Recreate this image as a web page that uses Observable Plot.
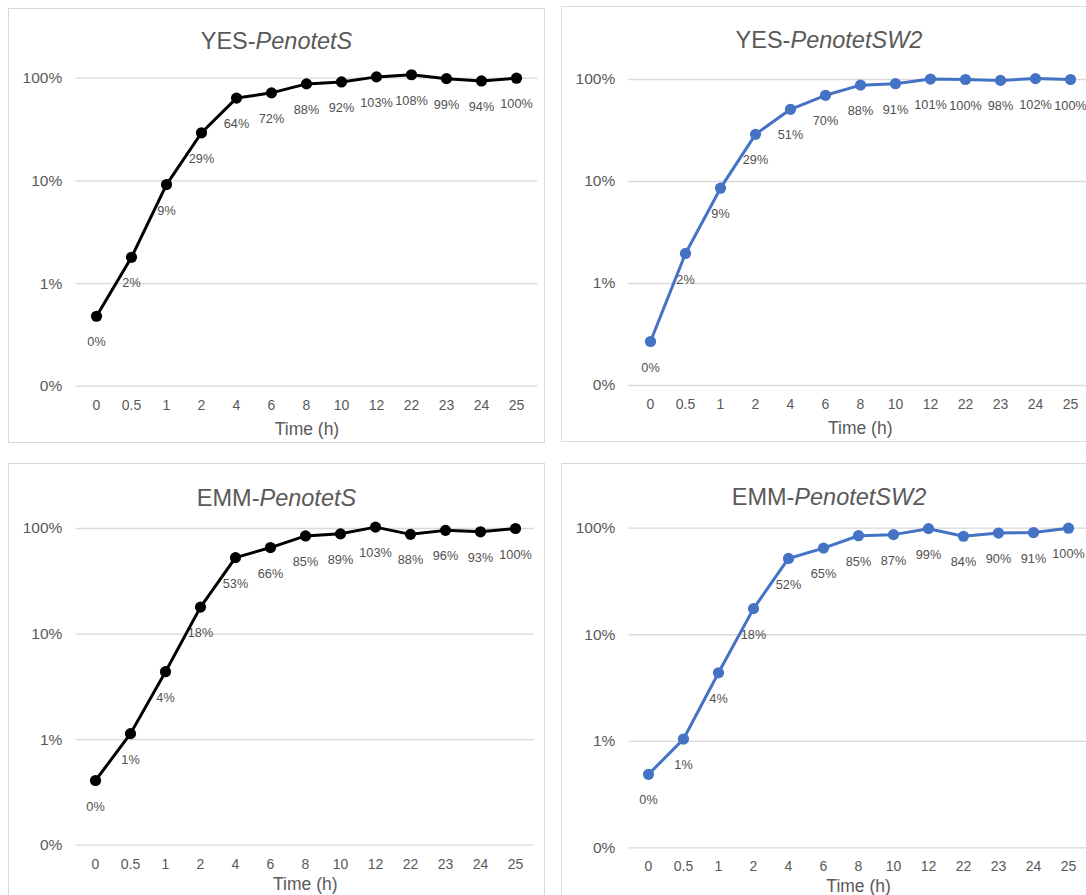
<!DOCTYPE html>
<html>
<head>
<meta charset="utf-8">
<script src="https://cdn.jsdelivr.net/npm/d3@7"></script>
<script src="https://cdn.jsdelivr.net/npm/@observablehq/plot@0.6"></script>
<style>
  html, body { margin: 0; padding: 0; background: #fff; overflow: hidden; width: 1086px; height: 895px; }
  body { position: relative; font-family: "Liberation Sans", Arial, sans-serif; }
  .panel { position: absolute; box-sizing: border-box; border: 1.5px solid #d9d9d9; background: #fff; }
  .plot { position: absolute; }
  .title { position: absolute; text-align: center; font-size: 23.5px; line-height: 23.5px; color: #595959; white-space: nowrap; }
  .title i { font-style: italic; }
</style>
</head>
<body>
<script>
// ---- data ----
const times = ["0", "0.5", "1", "2", "4", "6", "8", "10", "12", "22", "23", "24", "25"];
const yesPenotetS   = [0.0048, 0.018, 0.092, 0.294, 0.64, 0.72, 0.88, 0.92, 1.03, 1.08, 0.99, 0.94, 1.00];
const yesPenotetSW2 = [0.0027, 0.0197, 0.086, 0.29, 0.51, 0.70, 0.88, 0.91, 1.01, 1.00, 0.98, 1.02, 1.00];
const emmPenotetS   = [0.0041, 0.0114, 0.044, 0.18, 0.53, 0.66, 0.85, 0.89, 1.03, 0.88, 0.96, 0.93, 1.00];
const emmPenotetSW2 = [0.0049, 0.0105, 0.044, 0.176, 0.52, 0.65, 0.85, 0.87, 0.99, 0.84, 0.90, 0.91, 1.00];
const yTicks = [0.001, 0.01, 0.1, 1];
const yTickLabels = ["0%", "1%", "10%", "100%"];
const xTitle = "Time (h)";
const titlePrefixes = ["YES-", "YES-", "EMM-", "EMM-"];
const titleNames = ["PenotetS", "PenotetSW2", "PenotetS", "PenotetSW2"];
const seriesColors = ["#000000", "#4472C4", "#000000", "#4472C4"];
const seriesValues = [yesPenotetS, yesPenotetSW2, emmPenotetS, emmPenotetSW2];

// ---- layout ----
const layouts = [
  {left: 8,     top: 8,     W: 537, H: 435, mL: 67.5, mR: 7.6,  mT: 69.7, mB: 57.3, titleY: 41.7,  xLabDy: 43},
  {left: 560.5, top: 6,     W: 537, H: 436, mL: 67.5, mR: 7,    mT: 73,   mB: 57,   titleY: 40,    xLabDy: 43},
  {left: 8,     top: 463.3, W: 537, H: 440, mL: 67.6, mR: 11,   mT: 65,   mB: 58.3, titleY: 498.3, xLabDy: 39.5},
  {left: 560.5, top: 463.3, W: 537, H: 440, mL: 67.7, mR: 10.5, mT: 64.7, mB: 55.6, titleY: 497.7, xLabDy: 38.5}
];

const pct = d3.format(".0%");

layouts.forEach((L, i) => {
  const panel = document.createElement("div");
  panel.className = "panel";
  Object.assign(panel.style, {left: L.left + "px", top: L.top + "px", width: L.W + "px", height: L.H + "px"});
  document.body.appendChild(panel);

  const data = times.map((t, k) => ({t, v: seriesValues[i][k]}));
  const color = seriesColors[i];
  const tickLabel = new Map(yTicks.map((v, k) => [v, yTickLabels[k]]));

  const chart = Plot.plot({
    width: L.W,
    height: L.H,
    marginLeft: L.mL,
    marginRight: L.mR,
    marginTop: L.mT,
    marginBottom: L.mB,
    style: {fontFamily: '"Liberation Sans", Arial, sans-serif', background: "transparent", overflow: "visible"},
    x: {type: "point", domain: times, padding: 0.5, label: null},
    y: {type: "log", domain: [0.001, 1], label: null},
    marks: [
      Plot.gridY(yTicks, {stroke: "#d9d9d9", strokeOpacity: 1, strokeWidth: 1.3}),
      Plot.axisY(yTicks, {tickSize: 0, tickPadding: 13.8, tickFormat: d => tickLabel.get(d), fontSize: 15.5, color: "#595959", label: null}),
      Plot.axisX({tickSize: 0, tickPadding: 13.6, fontSize: 14, color: "#595959", label: null}),
      Plot.text([xTitle], {frameAnchor: "bottom", dy: L.xLabDy, lineAnchor: "middle", fontSize: 17.5, fill: "#595959"}),
      Plot.text(data, {x: "t", y: "v", text: d => pct(d.v), dy: 26, lineAnchor: "middle", fontSize: 12.7, fill: "#505050"}),
      Plot.line(data, {x: "t", y: "v", stroke: color, strokeWidth: 3, strokeLinejoin: "round"}),
      Plot.dot(data, {x: "t", y: "v", r: 5.6, fill: color, stroke: "none"})
    ]
  });
  chart.classList.add("plot");
  chart.style.left = L.left + "px";
  chart.style.top = L.top + "px";
  document.body.appendChild(chart);

  const title = document.createElement("div");
  title.className = "title";
  title.style.left = L.left + "px";
  title.style.width = L.W + "px";
  title.style.top = (L.titleY - 11.5) + "px";
  title.appendChild(document.createTextNode(titlePrefixes[i]));
  const it = document.createElement("i");
  it.textContent = titleNames[i];
  title.appendChild(it);
  document.body.appendChild(title);
});
</script>
</body>
</html>
